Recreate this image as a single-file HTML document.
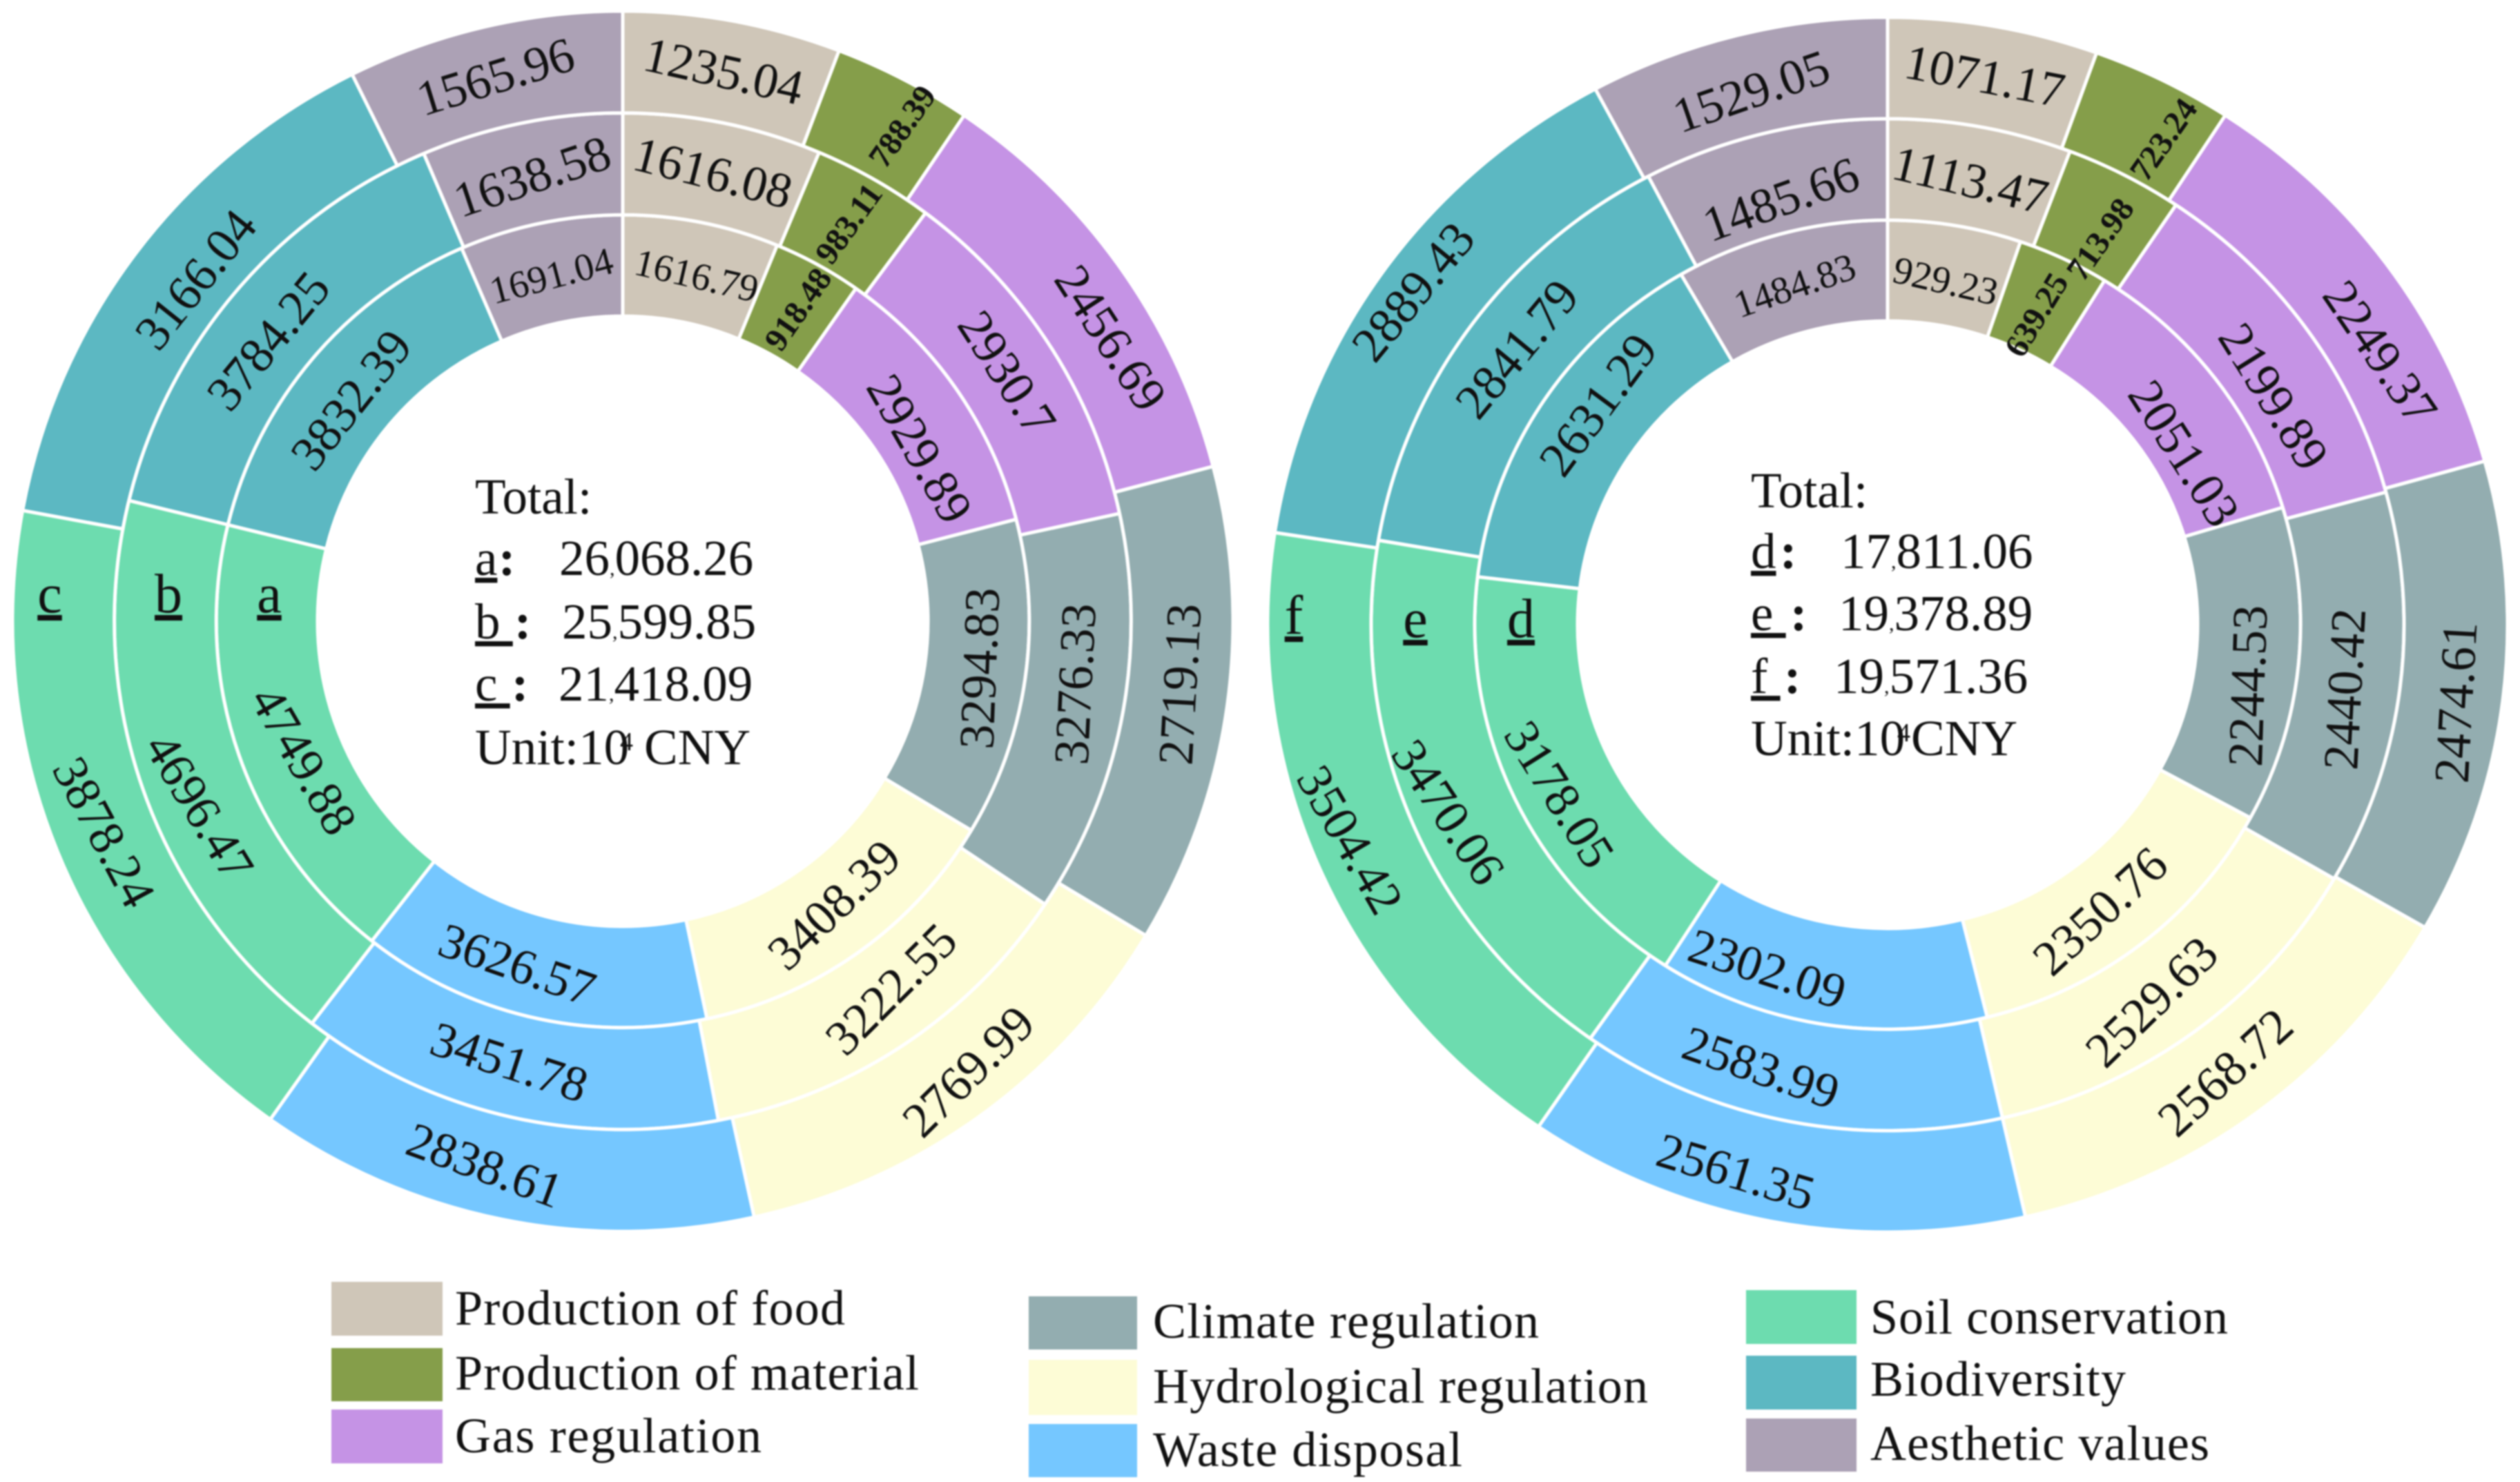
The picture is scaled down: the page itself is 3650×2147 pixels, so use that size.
<!DOCTYPE html>
<html lang="en">
<head>
<meta charset="utf-8">
<title>Ecosystem service value rings</title>
<style>
html,body{margin:0;padding:0;background:#fff;width:3650px;height:2147px;overflow:hidden}
svg{display:block;filter:blur(1px)}
text{font-family:"Liberation Serif","Noto Serif CJK SC",serif;fill:#111}
</style>
</head>
<body>
<svg id="chart" xmlns="http://www.w3.org/2000/svg" width="3650" height="2147" viewBox="0 0 3650 2147">
  <rect width="3650" height="2147" fill="#fff"/>
  <g id="donuts"></g>

  <g font-size="73">
    <text x="688" y="744">Total:</text>
    <text y="833"><tspan x="688" text-decoration="underline">a</tspan><tspan x="722" font-weight="bold">:</tspan><tspan x="810">26</tspan><tspan font-size="30">,</tspan><tspan>068.26</tspan></text>
    <text y="925"><tspan x="688" text-decoration="underline">b </tspan><tspan x="745" font-weight="bold">:</tspan><tspan x="814">25</tspan><tspan font-size="30">,</tspan><tspan>599.85</tspan></text>
    <text y="1015"><tspan x="688" text-decoration="underline">c </tspan><tspan x="741" font-weight="bold">:</tspan><tspan x="809">21</tspan><tspan font-size="30">,</tspan><tspan>418.09</tspan></text>
    <text y="1107"><tspan x="688">Unit:10</tspan><tspan x="898" y="1087" font-size="38">4</tspan><tspan x="933" y="1107">CNY</tspan></text>
  </g>

  <g font-size="73">
    <text x="2536" y="735">Total:</text>
    <text y="823"><tspan x="2536" text-decoration="underline">d</tspan><tspan x="2578" font-weight="bold">:</tspan><tspan x="2666">17</tspan><tspan font-size="30">,</tspan><tspan>811.06</tspan></text>
    <text y="913"><tspan x="2536" text-decoration="underline">e </tspan><tspan x="2593" font-weight="bold">:</tspan><tspan x="2663">19</tspan><tspan font-size="30">,</tspan><tspan>378.89</tspan></text>
    <text y="1004"><tspan x="2536" text-decoration="underline">f </tspan><tspan x="2584" font-weight="bold">:</tspan><tspan x="2656">19</tspan><tspan font-size="30">,</tspan><tspan>571.36</tspan></text>
    <text y="1094"><tspan x="2536">Unit:10</tspan><tspan x="2748" y="1074" font-size="38">4</tspan><tspan x="2768" y="1094">CNY</tspan></text>
  </g>

  <g font-size="72">
    <rect x="480" y="1857" width="161" height="78" fill="#cfc6b8"/>
    <text x="659" y="1919" textLength="565">Production of food</text>
    <rect x="480" y="1953" width="161" height="77" fill="#859e4a"/>
    <text x="659" y="2013" textLength="672">Production of material</text>
    <rect x="480" y="2042" width="161" height="78" fill="#c593e5"/>
    <text x="659" y="2104" textLength="444">Gas regulation</text>

    <rect x="1490" y="1878" width="157" height="77" fill="#93adb0"/>
    <text x="1670" y="1938" textLength="559">Climate regulation</text>
    <rect x="1490" y="1970" width="157" height="80" fill="#fdfcd6"/>
    <text x="1670" y="2032" textLength="717">Hydrological regulation</text>
    <rect x="1490" y="2063" width="157" height="77" fill="#75c7ff"/>
    <text x="1670" y="2124" textLength="448">Waste disposal</text>

    <rect x="2529" y="1869" width="160" height="78" fill="#6ddcaf"/>
    <text x="2709" y="1932" textLength="518">Soil conservation</text>
    <rect x="2529" y="1964" width="160" height="78" fill="#5cb8c2"/>
    <text x="2709" y="2022" textLength="370">Biodiversity</text>
    <rect x="2529" y="2055" width="160" height="77" fill="#aca1b5"/>
    <text x="2709" y="2115" textLength="491">Aesthetic values</text>
  </g>
</svg>
<script>
const categories = ['food', 'material', 'gas', 'climate', 'hydrological', 'waste', 'soil', 'biodiversity', 'aesthetic'];
const seriesA = [1616.79, 918.48, 2929.89, 3294.83, 3408.39, 3626.57, 4749.88, 3832.39, 1691.04];
const seriesB = [1616.08, 983.11, 2930.7, 3276.33, 3222.55, 3451.78, 4696.47, 3784.25, 1638.58];
const seriesC = [1235.04, 788.39, 2456.69, 2719.13, 2769.99, 2838.61, 3878.24, 3166.04, 1565.96];
const seriesD = [929.23, 639.25, 2051.03, 2244.53, 2350.76, 2302.09, 3178.05, 2631.29, 1484.83];
const seriesE = [1113.47, 713.98, 2199.89, 2440.42, 2529.63, 2583.99, 3470.06, 2841.79, 1485.66];
const seriesF = [1071.17, 723.24, 2249.37, 2474.61, 2568.72, 2561.35, 3504.42, 2889.43, 1529.05];

const colors = ['#cfc6b8', '#859e4a', '#c593e5', '#93adb0', '#fdfcd6', '#75c7ff', '#6ddcaf', '#5cb8c2', '#aca1b5'];

/* hand-placement of each label relative to its slice midpoint: degrees along the ring */
const sweepA = [0.9, 0.7, 4.6, -0.7, -1.2, 4, -4.5, -1, 0];
const sweepB = [0, 0, 0, -2.9, -2.6, 1, -4.4, -2, 0];
const sweepC = [0, 2.1, 5.2, -1.7, -1.8, 2.8, 0, 1.6, 0];
const sweepD = [0, 0, 7, 4, 1.7, 9.6, -2.5, 4.4, 0];
const sweepE = [0, 1.1, 4.5, 0.7, 1.9, 4.5, -0.9, 1.2, 0];
const sweepF = [0, 2.8, 6.9, 0.8, 0, 4.5, 1.3, 0.3, 0];
/* radial nudge away from the ring's middle */
const nudgeA = [-4, 3, -18, 6, -3, 5, -11, -8, -5];
const nudgeB = [0, 0, 0, -1, -3, -3, 7, -8, -5];
const nudgeC = [0, 13, 7, 2, 12, 3, 1, -18, 0];
const nudgeD = [-9, -17, -25, 6, 0, 14, 14, 7, -5];
const nudgeE = [-5, -25, -20, -4, 3, 7, 21, 1, -25];
const nudgeF = [0, -2, -4, 8, 0, 15, 18, 22, -10];
/* tilt of the label relative to the ring tangent */
const tiltA = [2, 6, 5, -6, -8.5, 6, -11, -2, -3];
const tiltB = [3, 6, 0, -8, -11.5, 4.6, -12, -1, -7];
const tiltC = [2.3, 7.6, 2.4, -5, -9, 8.7, -6, 1.4, -4];
const tiltD = [3.6, 6, 5, -4, -5, 8.7, -6.7, 3, -4];
const tiltE = [3, 7.7, 3.6, -4.5, -8, 8, -11, 3.5, -6];
const tiltF = [1, 8.6, 2, -4, -6, 6, -6.5, 4, -5];

const svgNS = 'http://www.w3.org/2000/svg';
const donutRoot = document.getElementById('donuts');

function polar(geom, radiusFraction, deg, extra) {
  const t = deg * Math.PI / 180;
  const e = extra || 0;
  return [geom.cx + (geom.rx * radiusFraction + e) * Math.sin(t), geom.cy - (geom.ry * radiusFraction + e) * Math.cos(t)];
}

function arcPath(geom, r0, r1, a0, a1) {
  const large = a1 - a0 > 180 ? 1 : 0;
  const p0 = polar(geom, r1, a0);
  const p1 = polar(geom, r1, a1);
  const p2 = polar(geom, r0, a1);
  const p3 = polar(geom, r0, a0);
  return 'M' + p0[0] + ' ' + p0[1] +
    'A' + geom.rx * r1 + ' ' + geom.ry * r1 + ' 0 ' + large + ' 1 ' + p1[0] + ' ' + p1[1] +
    'L' + p2[0] + ' ' + p2[1] +
    'A' + geom.rx * r0 + ' ' + geom.ry * r0 + ' 0 ' + large + ' 0 ' + p3[0] + ' ' + p3[1] + 'Z';
}

function labelRotation(categoryIndex, mid, tilt) {
  if (categoryIndex === 1) return mid - 90 + tilt;
  const base = (mid > 90 && mid < 270) ? mid - 180 : mid;
  return base + tilt;
}

function labelSize(ringIndex, categoryIndex) {
  if (categoryIndex === 1) return 48;
  if (ringIndex === 0 && (categoryIndex === 0 || categoryIndex === 8)) return 56;
  return 72;
}

function drawRing(geom, values, ringIndex, seriesName, sweep, nudge, tilt) {
  const total = values.reduce(function (s, v) { return s + v; }, 0);
  const r0 = geom.radii[ringIndex];
  const r1 = geom.radii[ringIndex + 1];
  let acc = 0;
  values.forEach(function (value, i) {
    const a0 = acc / total * 360;
    acc += value;
    const a1 = acc / total * 360;
    const slice = document.createElementNS(svgNS, 'path');
    slice.setAttribute('d', arcPath(geom, r0, r1, a0, a1));
    slice.setAttribute('fill', colors[i]);
    slice.setAttribute('stroke', '#fff');
    slice.setAttribute('stroke-width', '5');
    
    
    donutRoot.appendChild(slice);
  });
  acc = 0;
  values.forEach(function (value, i) {
    const mid = (acc + value / 2) / total * 360;
    acc += value;
    const pos = polar(geom, (r0 + r1) / 2, mid + sweep[i], nudge[i]);
    const label = document.createElementNS(svgNS, 'text');
    label.setAttribute('x', pos[0]);
    label.setAttribute('y', pos[1]);
    label.setAttribute('text-anchor', 'middle');
    label.setAttribute('dominant-baseline', 'central');
    label.setAttribute('font-size', labelSize(ringIndex, i));
    if (i === 1) label.setAttribute('font-weight', 'bold');
    label.setAttribute('transform', 'rotate(' + labelRotation(i, mid, tilt[i]) + ' ' + pos[0] + ' ' + pos[1] + ')');
    label.textContent = String(value);
    
    
    donutRoot.appendChild(label);
  });
}

function drawLetter(letter, x, y) {
  const t = document.createElementNS(svgNS, 'text');
  t.setAttribute('x', x);
  t.setAttribute('y', y);
  t.setAttribute('font-size', '80');
  t.setAttribute('text-anchor', 'middle');
  t.setAttribute('text-decoration', 'underline');
  t.textContent = letter;
  
  
  donutRoot.appendChild(t);
}

const leftGeom = { cx: 902, cy: 900, rx: 884, ry: 884, radii: [0.5, 0.666, 0.833, 1] };
const rightGeom = { cx: 2734, cy: 905, rx: 898, ry: 880, radii: [0.5, 0.666, 0.833, 1] };

drawRing(leftGeom, seriesA, 0, 'a', sweepA, nudgeA, tiltA);
drawRing(leftGeom, seriesB, 1, 'b', sweepB, nudgeB, tiltB);
drawRing(leftGeom, seriesC, 2, 'c', sweepC, nudgeC, tiltC);
drawRing(rightGeom, seriesD, 0, 'd', sweepD, nudgeD, tiltD);
drawRing(rightGeom, seriesE, 1, 'e', sweepE, nudgeE, tiltE);
drawRing(rightGeom, seriesF, 2, 'f', sweepF, nudgeF, tiltF);

drawLetter('a', 390, 887);
drawLetter('b', 244, 887);
drawLetter('c', 72, 887);
drawLetter('d', 2203, 923);
drawLetter('e', 2050, 923);
drawLetter('f', 1874, 918);
</script>
</body>
</html>
